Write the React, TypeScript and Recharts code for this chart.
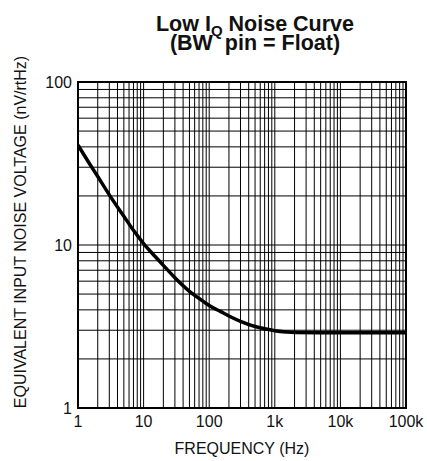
import { CartesianGrid, Line, LineChart, ReferenceArea, XAxis, YAxis } from "recharts";

document.body.style.margin = "0";

// readings (Hz, nV/rtHz)
const freq = [
  1, 1.5, 2, 3, 5, 7, 10, 15, 20, 30, 50, 70, 100, 150, 200, 300, 500, 700,
  1000, 1500, 2000, 5000, 10000, 100000,
];
const noise = [
  41, 31.5, 26.3, 20.3, 15, 12.3, 10.2, 8.5, 7.5, 6.3, 5.2, 4.7, 4.25, 3.9,
  3.67, 3.4, 3.16, 3.06, 2.98, 2.93, 2.91, 2.9, 2.9, 2.9,
];

const xTicks = [
  1, 2, 3, 4, 5, 6, 7, 8, 9,
  10, 20, 30, 40, 50, 60, 70, 80, 90,
  100, 200, 300, 400, 500, 600, 700, 800, 900,
  1000, 2000, 3000, 4000, 5000, 6000, 7000, 8000, 9000,
  10000, 20000, 30000, 40000, 50000, 60000, 70000, 80000, 90000,
  100000,
];
const yTicks = [1, 2, 3, 4, 5, 6, 7, 8, 9, 10, 20, 30, 40, 50, 60, 70, 80, 90, 100];

const xLabels: Record<number, string> = {
  1: "1",
  10: "10",
  100: "100",
  1000: "1k",
  10000: "10k",
  100000: "100k",
};
const yLabels: Record<number, string> = { 1: "1", 10: "10", 100: "100" };

const data = freq.map((f, i) => ({ f, v: noise[i] }));

const font = '"Liberation Sans", Arial, sans-serif';

const titleStyle = {
  position: "absolute" as const,
  left: 0,
  width: 510,
  textAlign: "center" as const,
  fontSize: 21.5,
  lineHeight: "20px",
  fontWeight: "bold",
  whiteSpace: "pre" as const,
};

export default function App() {
  return (
    <div style={{ position: "relative", width: 427, height: 461, fontFamily: font, color: "#111" }}>
      <div style={{ ...titleStyle, top: 14 }}>
        Low I<span style={{ fontSize: 15, position: "relative", top: 5 }}>Q</span> Noise Curve
      </div>
      <div style={{ ...titleStyle, top: 33 }}>(BW  pin = Float)</div>

      <LineChart width={427} height={461} data={data} margin={{ top: 82, right: 21, left: 38, bottom: 23 }}>
        <CartesianGrid stroke="#000" strokeWidth={1} />
        <XAxis
          dataKey="f"
          type="number"
          scale="log"
          domain={[1, 100000]}
          ticks={xTicks}
          interval={0}
          allowDataOverflow
          height={30}
          tickLine={false}
          axisLine={false}
          tickFormatter={(v) => xLabels[v] ?? ""}
          tick={{ fill: "#111", fontSize: 16, fontFamily: font }}
          label={{
            content: () => (
              <text x={242} y={454} textAnchor="middle" fill="#111" fontSize={16} fontFamily={font}>
                FREQUENCY (Hz)
              </text>
            ),
          }}
        />
        <YAxis
          type="number"
          scale="log"
          domain={[1, 100]}
          ticks={yTicks}
          interval={0}
          allowDataOverflow
          width={40}
          tickLine={false}
          axisLine={false}
          tickSize={2}
          tickMargin={4}
          tickFormatter={(v) => yLabels[v] ?? ""}
          tick={{ fill: "#111", fontSize: 16, fontFamily: font }}
          label={{
            content: () => (
              <text
                x={26}
                y={232}
                transform="rotate(-90 26 232)"
                textAnchor="middle"
                fill="#111"
                fontSize={16}
                fontFamily={font}
              >
                EQUIVALENT INPUT NOISE VOLTAGE (nV/rtHz)
              </text>
            ),
          }}
        />
        <ReferenceArea x1={1} x2={100000} y1={1} y2={100} fill="none" stroke="#000" strokeWidth={2} />
        <Line
          dataKey="v"
          type="monotone"
          stroke="#000"
          strokeWidth={3.5}
          dot={false}
          isAnimationActive={false}
        />
      </LineChart>
    </div>
  );
}
